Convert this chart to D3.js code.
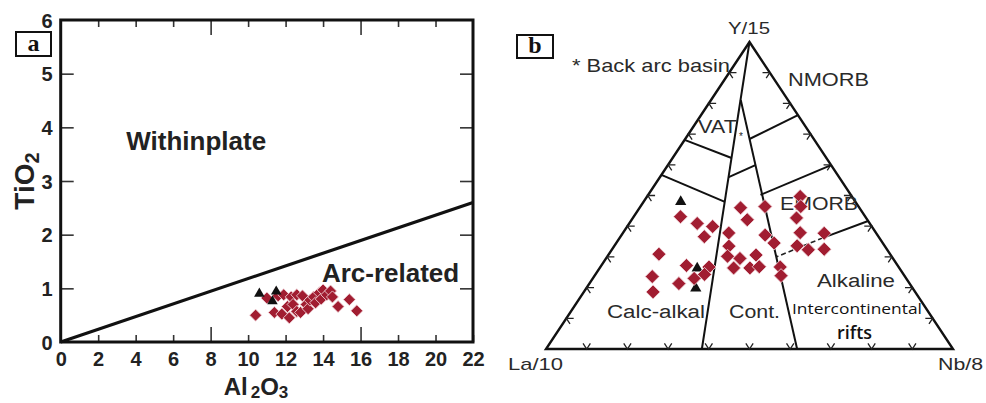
<!DOCTYPE html>
<html>
<head>
<meta charset="utf-8">
<script src="https://cdn.jsdelivr.net/npm/d3@7"></script>
<style>
  html, body { margin: 0; padding: 0; background: #fff; }
  svg { display: block; }
</style>
</head>
<body>
<svg id="fig" width="986" height="403"></svg>
<script>
// ---------- Panel a: TiO2 vs Al2O3 ----------
const alTicks = [0, 2, 4, 6, 8, 10, 12, 14, 16, 18, 20, 22];
const tiTicks = [0, 1, 2, 3, 4, 5, 6];
const longAlTicks = [8, 16];
const boundaryAl = [0, 22];
const boundaryTi = [0, 2.6];

const al2o3 = [10.4, 11.0, 11.4, 11.6, 11.8, 11.9, 12.1, 12.2, 12.3, 12.4, 12.6, 12.6, 12.8, 12.9,
               13.1, 13.2, 13.3, 13.5, 13.6, 13.8, 13.9, 14.0, 14.2, 14.4, 14.5, 14.8, 15.4, 15.8];
const tio2  = [0.50, 0.82, 0.55, 0.86, 0.52, 0.88, 0.66, 0.45, 0.84, 0.70, 0.88, 0.57, 0.55, 0.86,
               0.70, 0.62, 0.78, 0.84, 0.73, 0.92, 0.80, 0.97, 0.88, 0.95, 0.84, 0.66, 0.79, 0.58];
const triAl = [10.6, 11.5, 11.3];
const triTi = [0.90, 0.94, 0.76];

// ---------- Panel b: Y/15 - La/10 - Nb/8 ternary (percent) ----------
const diaY  = [43.1, 40.9, 39.9, 36.6, 30.9, 27.2, 26.7, 24.3, 23.0, 23.6, 18.6, 21.3, 37.8, 33.5, 30.2,
               46.0, 42.1, 46.4, 29.5, 26.4, 26.4, 30.6, 26.8, 37.1, 34.5, 26.7, 23.9, 49.7, 46.4, 42.7,
               37.9, 33.6, 32.3, 37.7, 32.5];
const diaLa = [45.4, 42.4, 39.1, 42.8, 56.8, 51.9, 46.6, 48.9, 52.1, 62.1, 64.4, 56.7, 36.2, 38.3, 40.3,
               29.2, 29.5, 23.0, 37.6, 40.7, 36.7, 33.1, 34.2, 27.6, 26.7, 29.1, 30.3, 12.7, 14.2, 17.1,
               18.6, 21.5, 19.4, 12.8, 15.4];
const diaNb = [11.5, 16.7, 21.0, 20.6, 12.3, 20.9, 26.7, 26.8, 24.9, 14.3, 17.0, 22.0, 26.0, 28.2, 29.5,
               24.8, 28.4, 30.6, 32.9, 32.9, 36.9, 36.3, 39.0, 35.3, 38.8, 44.2, 45.8, 37.6, 39.4, 40.2,
               43.5, 44.9, 48.3, 49.5, 52.1];
const triY  = [48.0, 26.3, 19.8];
const triLa = [42.9, 49.7, 53.3];
const triNb = [9.1, 24.0, 26.9];

// Field boundaries as [Y, La, Nb] end points
const fieldLines = [
  [[100, 0, 0], [0, 61.7, 38.3]],
  [[81.1, 11.6, 7.3], [0, 38.3, 61.7]],
  [[68.1, 31.9, 0], [62.2, 23.3, 14.5]],
  [[56.7, 43.3, 0], [47.9, 32.1, 20.0]],
  [[56.0, 27.1, 16.9], [59.9, 18.6, 21.5]],
  [[68.4, 15.8, 15.8], [76.2, 0, 23.8]],
  [[50.2, 22.2, 27.6], [59.9, 0, 40.1]],
  [[41.7, 0, 58.3], [36.2, 13.9, 49.9]]
];
const dashedLines = [
  [[36.2, 13.9, 49.9], [30.0, 28.4, 41.6]]
];
const edgeTicks = [10, 20, 30, 40, 50, 60, 70, 80, 90];

const svg = d3.select("#fig");
svg.append("rect").attr("width", 986).attr("height", 403).attr("fill", "#fff");

const RED = "#a11d31";

// ===== Panel a =====
const x = d3.scaleLinear().domain([0, 22]).range([60.7, 473]);
const y = d3.scaleLinear().domain([0, 6]).range([342, 20]);
const gA = svg.append("g");
const intFmt = d3.format("d");

function styleAxis(g) {
  g.select(".domain").remove();
  g.selectAll(".tick line").attr("stroke", "#333").attr("stroke-width", 1.6);
  g.attr("font-family", "'Liberation Sans', Arial, sans-serif")
   .attr("font-weight", "bold").attr("font-size", 20).attr("fill", "#222");
  g.selectAll(".tick text").attr("fill", "#222");
}

const axB = gA.append("g").attr("transform", `translate(0,${y(0)})`)
  .call(d3.axisBottom(x).tickValues(alTicks).tickFormat(intFmt).tickSize(-7).tickSizeOuter(0).tickPadding(8));
styleAxis(axB);
axB.selectAll(".tick line").attr("y2", d => longAlTicks.includes(d) ? -15 : -7);
axB.selectAll(".tick text").attr("dy", "0.78em");

const axT = gA.append("g").attr("transform", `translate(0,${y(6)})`)
  .call(d3.axisTop(x).tickValues(alTicks.slice(1, -1)).tickSize(-7).tickSizeOuter(0).tickFormat(""));
styleAxis(axT);
axT.selectAll(".tick line").attr("y2", d => longAlTicks.includes(d) ? 15 : 7);

const axL = gA.append("g").attr("transform", `translate(${x(0)},0)`)
  .call(d3.axisLeft(y).tickValues(tiTicks).tickFormat(intFmt).tickSize(-13).tickSizeOuter(0).tickPadding(8));
styleAxis(axL);
axL.selectAll(".tick line").attr("display", d => (d === 0 || d === 6) ? "none" : null);
axL.selectAll(".tick text").attr("dy", "0.36em");

const axR = gA.append("g").attr("transform", `translate(${x(22)},0)`)
  .call(d3.axisRight(y).tickValues(tiTicks.slice(1, -1)).tickSize(-13).tickSizeOuter(0).tickFormat(""));
styleAxis(axR);

// frame
gA.append("rect")
  .attr("x", x(0)).attr("y", y(6))
  .attr("width", x(22) - x(0)).attr("height", y(0) - y(6))
  .attr("fill", "none").attr("stroke", "#111").attr("stroke-width", 3);

// discrimination line
gA.append("line")
  .attr("x1", x(boundaryAl[0])).attr("y1", y(boundaryTi[0]))
  .attr("x2", x(boundaryAl[1])).attr("y2", y(boundaryTi[1]))
  .attr("stroke", "#111").attr("stroke-width", 3.2);

// field names
const boldFont = "'Liberation Sans', Arial, sans-serif";
gA.append("text").attr("x", x(3.5)).attr("y", y(3.58))
  .attr("font-family", boldFont).attr("font-weight", "bold").attr("font-size", 26)
  .attr("fill", "#222").text("Withinplate");
gA.append("text").attr("x", x(13.94)).attr("y", y(1.12))
  .attr("font-family", boldFont).attr("font-weight", "bold").attr("font-size", 26)
  .attr("fill", "#222").text("Arc-related");

// axis titles
const xt = gA.append("text").attr("x", 256).attr("y", 395).attr("text-anchor", "middle")
  .attr("font-family", boldFont).attr("font-weight", "bold").attr("font-size", 24).attr("fill", "#222");
xt.append("tspan").text("Al");
xt.append("tspan").attr("dx", 3).attr("dy", 3).attr("font-size", 17).text("2");
xt.append("tspan").attr("dy", -3).text("O");
xt.append("tspan").attr("dy", 3).attr("font-size", 17).text("3");

const yt = gA.append("text").attr("transform", "translate(34,181) rotate(-90)").attr("text-anchor", "middle")
  .attr("font-family", boldFont).attr("font-weight", "bold").attr("font-size", 28).attr("fill", "#222");
yt.append("tspan").text("TiO");
yt.append("tspan").attr("dy", 5).attr("font-size", 20).text("2");

// samples
const diamond = d3.symbol(d3.symbolSquare, 72)();
const triangle = d3.symbol(d3.symbolTriangle, 48)();
gA.append("g").selectAll("path").data(d3.range(al2o3.length)).join("path")
  .attr("d", diamond)
  .attr("transform", i => `translate(${x(al2o3[i])},${y(tio2[i])}) rotate(45)`)
  .attr("fill", RED).attr("stroke", "#f2d6da").attr("stroke-width", 0.8);
gA.append("g").selectAll("path").data(d3.range(triAl.length)).join("path")
  .attr("d", triangle)
  .attr("transform", i => `translate(${x(triAl[i])},${y(triTi[i])})`)
  .attr("fill", "#111");

// panel letter
gA.append("rect").attr("x", 16).attr("y", 32).attr("width", 35).attr("height", 24)
  .attr("fill", "#fff").attr("stroke", "#111").attr("stroke-width", 2);
gA.append("text").attr("x", 33.5).attr("y", 51).attr("text-anchor", "middle")
  .attr("font-family", "'Liberation Serif', 'Times New Roman', serif").attr("font-weight", "bold")
  .attr("font-size", 24).attr("fill", "#111").text("a");

// ===== Panel b =====
const tx = d3.scaleLinear().domain([0, 1]).range([546, 953]);
const ty = d3.scaleLinear().domain([0, 1]).range([349, 42]);
function proj(p) {
  const s = p[0] + p[1] + p[2];
  const a = p[0] / s, n = p[2] / s;
  return [tx(n + a / 2), ty(a)];
}
const gB = svg.append("g");
const line = d3.line();

// outer triangle
gB.append("path")
  .attr("d", line([proj([100, 0, 0]), proj([0, 100, 0]), proj([0, 0, 100])]) + "Z")
  .attr("fill", "none").attr("stroke", "#111").attr("stroke-width", 2.4).attr("stroke-linejoin", "miter");

// edge ticks (small chevrons along grid directions)
const d = 1.8;
const tickPaths = [];
edgeTicks.forEach(k => {
  // left edge (Nb = 0)
  tickPaths.push([proj([k, 100 - k - d, d]), proj([k, 100 - k, 0]), proj([k - d, 100 - k, d])]);
  // right edge (La = 0)
  tickPaths.push([proj([k, d, 100 - k - d]), proj([k, 0, 100 - k]), proj([k - d, d, 100 - k])]);
  // base (Y = 0)
  tickPaths.push([proj([d, 100 - k, k - d]), proj([0, 100 - k, k]), proj([d, 100 - k - d, k])]);
});
gB.append("g").selectAll("path").data(tickPaths).join("path")
  .attr("d", p => line(p)).attr("fill", "none").attr("stroke", "#222").attr("stroke-width", 1.3);

gB.append("g").selectAll("path").data(fieldLines).join("path")
  .attr("d", p => line(p.map(proj)))
  .attr("fill", "none").attr("stroke", "#111").attr("stroke-width", 2);
gB.append("g").selectAll("path").data(dashedLines).join("path")
  .attr("d", p => line(p.map(proj)))
  .attr("fill", "none").attr("stroke", "#222").attr("stroke-width", 1.6).attr("stroke-dasharray", "5,3");

// labels
const regFont = "'Liberation Sans', Arial, sans-serif";
const bLabels = [
  { t: "Y/15", x: 728, y: 34, w: 42, s: 17 },
  { t: "La/10", x: 508, y: 370, w: 55, s: 17 },
  { t: "Nb/8", x: 938, y: 370, w: 45, s: 17 },
  { t: "* Back arc basin", x: 572, y: 72, w: 158, s: 19 },
  { t: "NMORB", x: 788, y: 86, w: 81, s: 18 },
  { t: "VAT", x: 698, y: 133, w: 39, s: 18 },
  { t: "EMORB", x: 780, y: 210, w: 78, s: 18 },
  { t: "Alkaline", x: 817, y: 287, w: 78, s: 18 },
  { t: "Calc-alkal", x: 607, y: 318, w: 98, s: 18 },
  { t: "Cont.", x: 729, y: 318, w: 51, s: 18 }
];
gB.append("g").selectAll("text").data(bLabels).join("text")
  .attr("x", l => l.x).attr("y", l => l.y)
  .attr("textLength", l => l.w).attr("lengthAdjust", "spacingAndGlyphs")
  .attr("font-family", regFont).attr("font-size", l => l.s).attr("fill", "#2a2a2a")
  .text(l => l.t);
gB.append("text").attr("x", 741).attr("y", 140).attr("text-anchor", "middle")
  .attr("font-family", regFont).attr("font-size", 10).attr("fill", "#222").text("*");
gB.append("text").attr("x", 792).attr("y", 314)
  .attr("textLength", 130).attr("lengthAdjust", "spacingAndGlyphs")
  .attr("font-family", "'Open Sans', 'Noto Sans', sans-serif").attr("font-size", 15).attr("fill", "#111")
  .text("Intercontinental");
gB.append("text").attr("x", 837).attr("y", 339)
  .attr("textLength", 35).attr("lengthAdjust", "spacingAndGlyphs")
  .attr("font-family", "'Open Sans', 'Noto Sans', sans-serif").attr("font-weight", 600)
  .attr("font-size", 18).attr("fill", "#111").text("rifts");

// samples
const diamondB = d3.symbol(d3.symbolSquare, 98)();
const triangleB = d3.symbol(d3.symbolTriangle, 55)();
gB.append("g").selectAll("path").data(d3.range(triY.length)).join("path")
  .attr("d", triangleB)
  .attr("transform", i => { const p = proj([triY[i], triLa[i], triNb[i]]); return `translate(${p[0]},${p[1]})`; })
  .attr("fill", "#111");
gB.append("g").selectAll("path").data(d3.range(diaY.length)).join("path")
  .attr("d", diamondB)
  .attr("transform", i => { const p = proj([diaY[i], diaLa[i], diaNb[i]]); return `translate(${p[0]},${p[1]}) rotate(45)`; })
  .attr("fill", RED).attr("stroke", "#f2d6da").attr("stroke-width", 0.8);

// panel letter
gB.append("rect").attr("x", 517).attr("y", 35).attr("width", 36).attr("height", 23)
  .attr("fill", "#fff").attr("stroke", "#111").attr("stroke-width", 2);
gB.append("text").attr("x", 535).attr("y", 53).attr("text-anchor", "middle")
  .attr("font-family", "'Liberation Serif', 'Times New Roman', serif").attr("font-weight", "bold")
  .attr("font-size", 24).attr("fill", "#111").text("b");
</script>
</body>
</html>
